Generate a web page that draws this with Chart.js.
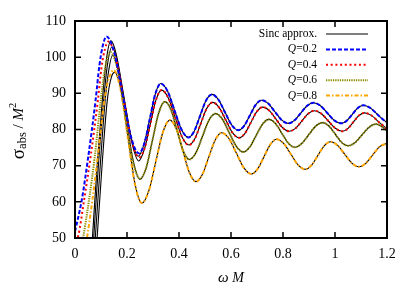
<!DOCTYPE html>
<html><head><meta charset="utf-8">
<script src="https://cdn.jsdelivr.net/npm/chart.js@4"></script>
<style>html,body{margin:0;padding:0;background:#fff}canvas{display:block}</style>
</head><body>
<canvas id="c" width="415" height="290"></canvas>
<script>
// ---- data: [omega*M, sigma_abs/M^2] ----
const q02 = [[0,51.8],[0.026,60.5],[0.051,72.5],[0.079,88],[0.094,97.8],[0.107,103.2],[0.121,105.7],
 [0.1523,100.97],[0.1835,89.55],[0.2148,78.13],[0.246,73.4],[0.267,76.23],[0.288,83.05],[0.309,89.87],[0.33,92.7],
 [0.3565,90.52],[0.383,85.25],[0.4095,79.98],[0.436,77.8],[0.4585,79.54],[0.481,83.75],[0.5035,87.96],[0.526,89.7],
 [0.5515,88.25],[0.577,84.75],[0.6025,81.25],[0.628,79.8],[0.6505,81.02],[0.673,83.95],[0.6955,86.88],[0.718,88.1],
 [0.7435,87.16],[0.769,84.9],[0.7945,82.64],[0.82,81.7],[0.844,82.53],[0.8685,84.55],[0.893,86.57],[0.917,87.4],
 [0.944,86.57],[0.9705,84.55],[0.997,82.53],[1.024,81.7],[1.045,82.43],[1.0665,84.2],[1.088,85.97],[1.109,86.7],
 [1.1355,85.98],[1.162,84.25],[1.1885,82.52],[1.2,82.0]];
const q04 = [[0,49.3],[0.012,50.5],[0.035,60.5],[0.06,72.5],[0.088,88],[0.102,97.2],[0.115,102.2],[0.128,104.3],
 [0.1578,99.61],[0.1875,88.3],[0.2173,76.99],[0.247,72.3],[0.2685,75.02],[0.29,81.6],[0.3115,88.18],[0.333,90.9],
 [0.3593,88.67],[0.3855,83.3],[0.4118,77.93],[0.438,75.7],[0.4608,77.43],[0.4835,81.6],[0.5063,85.77],[0.529,87.5],
 [0.5545,86.06],[0.58,82.6],[0.6055,79.14],[0.631,77.7],[0.6538,78.95],[0.6765,81.95],[0.6993,84.95],[0.722,86.2],
 [0.7475,85.22],[0.773,82.85],[0.7985,80.48],[0.824,79.5],[0.8483,80.33],[0.8725,82.35],[0.8968,84.37],[0.921,85.2],
 [0.9478,84.37],[0.9745,82.35],[1.0013,80.33],[1.028,79.5],[1.0493,80.25],[1.0705,82.05],[1.0918,83.85],[1.113,84.6],
 [1.1398,83.9],[1.1665,82.2],[1.2,80.2]];
const q06 = [[0.018,45],[0.032,50.4],[0.054,60.5],[0.076,72.5],[0.099,88],[0.112,95.5],[0.124,99.6],[0.136,101.4],
 [0.1645,96.27],[0.193,83.9],[0.2215,71.53],[0.25,66.4],[0.274,69.52],[0.298,77.05],[0.322,84.58],[0.346,87.7],
 [0.3695,85.36],[0.393,79.7],[0.4165,74.04],[0.44,71.7],[0.465,73.56],[0.49,78.05],[0.515,82.54],[0.54,84.4],
 [0.5668,82.85],[0.5935,79.1],[0.6203,75.35],[0.647,73.8],[0.6718,75.12],[0.6965,78.3],[0.7213,81.48],[0.746,82.8],
 [0.7708,81.67],[0.7955,78.95],[0.8203,76.23],[0.845,75.1],[0.8718,76.1],[0.8985,78.5],[0.9253,80.9],[0.952,81.9],
 [0.9765,80.96],[1.001,78.7],[1.0255,76.44],[1.05,75.5],[1.077,76.38],[1.104,78.5],[1.131,80.62],[1.158,81.5],
 [1.18,80.8],[1.2,79.6]];
const q08 = [[0.035,45],[0.047,50.4],[0.067,60.5],[0.086,71.5],[0.11,86.5],[0.124,92.5],[0.137,95.4],[0.148,96.4],
 [0.1753,91.02],[0.2025,78.05],[0.2298,65.08],[0.257,59.7],[0.284,63.06],[0.311,71.15],[0.338,79.24],[0.365,82.6],
 [0.39,80.11],[0.415,74.1],[0.44,68.09],[0.465,65.6],[0.4898,67.58],[0.5145,72.35],[0.5393,77.12],[0.564,79.1],
 [0.5925,77.43],[0.621,73.4],[0.6495,69.37],[0.678,67.7],[0.7025,69.11],[0.727,72.5],[0.7515,75.89],[0.776,77.3],
 [0.8033,76.08],[0.8305,73.15],[0.8578,70.22],[0.885,69.0],[0.9095,70.11],[0.934,72.8],[0.9585,75.49],[0.983,76.6],
 [1.0103,75.59],[1.0375,73.15],[1.0648,70.71],[1.092,69.7],[1.1185,70.65],[1.145,72.95],[1.1715,75.25],[1.2,76.2]];
// sinc approximation: low-frequency part differs, higher frequencies coincide with the exact curves
const sinc02Low = [[0.06,42],[0.067,50],[0.085,70],[0.105,88],[0.12,99],[0.138,104.5],[0.158,101],[0.187,89.5],[0.217,77.5],[0.243,72.6],[0.265,75.8]];
const sinc04Low = [[0.065,42],[0.072,50],[0.09,70],[0.11,88],[0.125,98],[0.142,102.8],[0.162,99],[0.19,87.8],[0.219,76.3],[0.245,71.3],[0.267,74.6]];
const sinc06Low = [[0.071,42],[0.078,50],[0.097,70],[0.116,88],[0.13,96.5],[0.145,100.6],[0.167,95.8],[0.196,83.5],[0.224,71.3],[0.25,66.2],[0.274,69.4]];
const sinc08Low = [[0.078,42],[0.085,50],[0.104,70],[0.124,88],[0.14,94.5],[0.153,95.8],[0.178,90.5],[0.204,77.8],[0.231,64.9],[0.257,59.6],[0.284,63.06]];
const sincJoin = [0.288, 0.29, 0.298, 0.311];
const qValues = ['0.2', '0.4', '0.6', '0.8'];
const xTicks = [0, 0.2, 0.4, 0.6, 0.8, 1, 1.2];
const xTickLabels = ['0', '0.2', '0.4', '0.6', '0.8', '1', '1.2'];
const yTicks = [50, 60, 70, 80, 90, 100, 110];
const yTickLabels = ['50', '60', '70', '80', '90', '100', '110'];

// ---- styling ----
const SERIF = '"Liberation Serif", "DejaVu Serif", serif';
const qStyles = [
  {color:'#0000ff', dash:[4,2]},
  {color:'#ff0000', dash:[2,2.7]},
  {color:'#8c8c00', dash:[1.3,1]},
  {color:'#ffa500', dash:[4,2,1.5,2]}
];
function pts(a){ return a.map(p => ({x:p[0], y:p[1]})); }
function tail(a, x0){ return a.filter(p => p[0] >= x0); }
const exact = [q02, q04, q06, q08];
const sincLow = [sinc02Low, sinc04Low, sinc06Low, sinc08Low];
const common = {fill:false, pointRadius:0, cubicInterpolationMode:'monotone', clip:0};
const datasets = [];
exact.forEach((d, i) => datasets.push(Object.assign({}, common, {
  label:'Q=' + qValues[i], data:pts(d), borderColor:qStyles[i].color, borderWidth:2, borderDash:qStyles[i].dash
})));
sincLow.forEach((d, i) => datasets.push(Object.assign({}, common, {
  label:'Sinc approx.', data:pts(d.concat(tail(exact[i], sincJoin[i]))), borderColor:'#000', borderWidth:1.1
})));

function richWidth(ctx, segs){
  let w = 0; segs.forEach(s => { ctx.font = s.font; w += ctx.measureText(s.t).width; }); return w;
}
function drawRich(ctx, segs, x, y, align){
  const w = richWidth(ctx, segs);
  let cx = align === 'right' ? x - w : (align === 'center' ? x - w/2 : x);
  segs.forEach(s => { ctx.font = s.font; ctx.fillText(s.t, cx, y + (s.dy || 0)); cx += ctx.measureText(s.t).width; });
}

const decor = {
  id:'decor',
  beforeDraw(chart){
    const c = chart.ctx; c.save(); c.fillStyle = '#fff'; c.fillRect(0, 0, chart.width, chart.height); c.restore();
  },
  afterDraw(chart){
    const c = chart.ctx, a = chart.chartArea, xs = chart.scales.x, ys = chart.scales.y;
    c.save();
    c.strokeStyle = '#000'; c.lineWidth = 1.5; c.setLineDash([]);
    xTicks.forEach(v => { const p = xs.getPixelForValue(v);
      c.beginPath(); c.moveTo(p, a.bottom); c.lineTo(p, a.bottom - 6); c.moveTo(p, a.top); c.lineTo(p, a.top + 6); c.stroke(); });
    yTicks.forEach(v => { const p = ys.getPixelForValue(v);
      c.beginPath(); c.moveTo(a.left, p); c.lineTo(a.left + 6, p); c.moveTo(a.right, p); c.lineTo(a.right - 6, p); c.stroke(); });
    c.lineWidth = 2; c.strokeRect(a.left, a.top, a.right - a.left, a.bottom - a.top);
    // legend
    c.fillStyle = '#000'; c.textBaseline = 'middle';
    const rows = [{segs:[{t:'Sinc approx.', font:'11.5px ' + SERIF}], color:'#000', dash:[], w:1.2}];
    qValues.forEach((q, i) => rows.push({segs:[{t:'Q', font:'italic 11.5px ' + SERIF}, {t:'=' + q, font:'11.5px ' + SERIF}],
      color:qStyles[i].color, dash:qStyles[i].dash, w:2}));
    rows.forEach((r, i) => {
      const y = 34 + i * 15.4;
      drawRich(c, r.segs, 317, y, 'right');
      c.strokeStyle = r.color; c.lineWidth = r.w; c.setLineDash(r.dash);
      c.beginPath(); c.moveTo(326, y); c.lineTo(368, y); c.stroke();
    });
    c.setLineDash([]);
    // x title
    c.fillStyle = '#000';
    drawRich(c, [{t:'\u03c9', font:'italic 15px ' + SERIF}, {t:' ', font:'14px ' + SERIF}, {t:'M', font:'italic 14px ' + SERIF}],
      (a.left + a.right) / 2, 278, 'center');
    // y title
    c.translate(19, 131); c.rotate(-Math.PI / 2);
    drawRich(c, [{t:'\u03c3', font:'19px ' + SERIF}, {t:'abs', font:'12.5px ' + SERIF, dy:4},
      {t:' / ', font:'15px ' + SERIF}, {t:'M', font:'italic 15px ' + SERIF}, {t:'2', font:'10.5px ' + SERIF, dy:-6}], 0, 0, 'center');
    c.restore();
  }
};

new Chart(document.getElementById('c'), {
  type:'line',
  data:{datasets},
  plugins:[decor],
  options:{
    responsive:false, animation:false, devicePixelRatio:1,
    layout:{padding:{top:21, right:28, left:0, bottom:0}},
    plugins:{legend:{display:false}, tooltip:{enabled:false}},
    scales:{
      x:{type:'linear', min:0, max:1.2,
        afterBuildTicks:s => { s.ticks = xTicks.map(v => ({value:v})); },
        ticks:{color:'#000', font:{family:SERIF, size:14}, padding:8, maxRotation:0, autoSkip:false,
          callback:(v, i) => xTickLabels[i]},
        grid:{display:false, drawTicks:false}, border:{display:false},
        afterFit:s => { s.height = 52; }},
      y:{type:'linear', min:50, max:110,
        afterBuildTicks:s => { s.ticks = yTicks.map(v => ({value:v})); },
        ticks:{color:'#000', font:{family:SERIF, size:14}, padding:9,
          callback:(v, i) => yTickLabels[i]},
        grid:{display:false, drawTicks:false}, border:{display:false},
        afterFit:s => { s.width = 75; }}
    }
  }
});
</script>
</body></html>
